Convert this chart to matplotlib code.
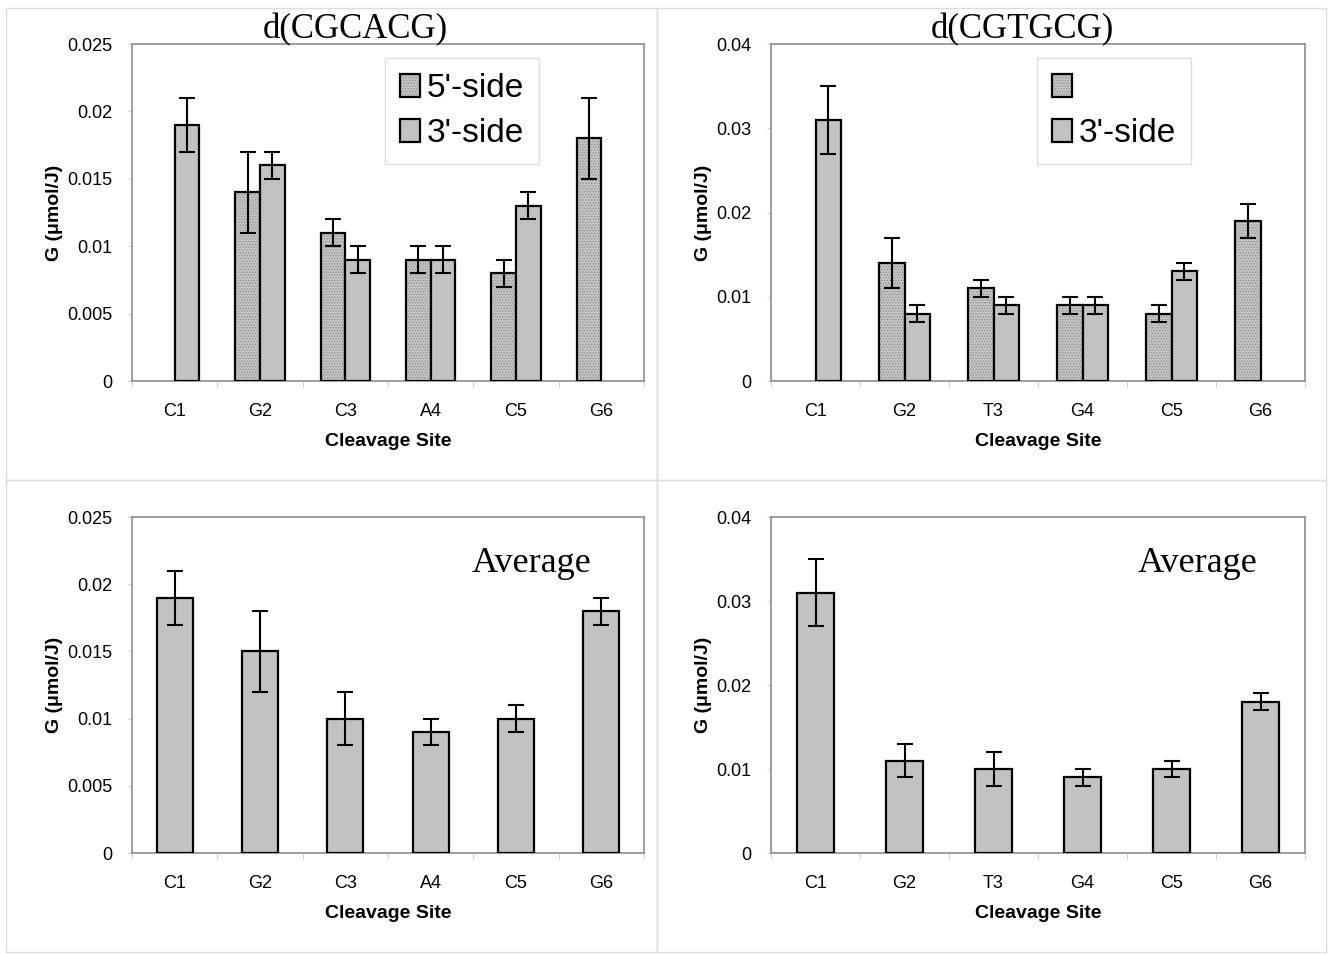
import numpy as np
import matplotlib
matplotlib.use("Agg")
import matplotlib.pyplot as plt
from matplotlib.patches import Patch, Rectangle
from matplotlib.ticker import FuncFormatter, FixedLocator

plt.rcParams['font.family'] = ['Liberation Sans', 'DejaVu Sans']
plt.rcParams['hatch.linewidth'] = 0.5

nan = np.nan

# sites for the two hexamers
sites_a = ['C1', 'G2', 'C3', 'A4', 'C5', 'G6']
sites_b = ['C1', 'G2', 'T3', 'G4', 'C5', 'G6']

# d(CGCACG), 5'-side and 3'-side cleavage
a_5side = [nan, 0.014, 0.011, 0.009, 0.008, 0.018]
a_5side_err = [nan, 0.003, 0.001, 0.001, 0.001, 0.003]
a_3side = [0.019, 0.016, 0.009, 0.009, 0.013, nan]
a_3side_err = [0.002, 0.001, 0.001, 0.001, 0.001, nan]

# d(CGTGCG), 5'-side and 3'-side cleavage
b_5side = [nan, 0.014, 0.011, 0.009, 0.008, 0.019]
b_5side_err = [nan, 0.003, 0.001, 0.001, 0.001, 0.002]
b_3side = [0.031, 0.008, 0.009, 0.009, 0.013, nan]
b_3side_err = [0.004, 0.001, 0.001, 0.001, 0.001, nan]

# averages
a_avg = [0.019, 0.015, 0.010, 0.009, 0.010, 0.018]
a_avg_err = [0.002, 0.003, 0.002, 0.001, 0.001, 0.001]
b_avg = [0.031, 0.011, 0.010, 0.009, 0.010, 0.018]
b_avg_err = [0.004, 0.002, 0.002, 0.001, 0.001, 0.001]

FILL = '#c2c2c2'
DOTS = '#8a8a8a'
SPINE = '#8c8c8c'

W, H = 1331, 955
fig = plt.figure(figsize=(W / 100, H / 100), dpi=100)

# light panel frames like the original figure
for (x0, y0, x1, y1) in [(6, 8, 657, 480), (657, 8, 1326, 480),
                         (6, 480, 657, 952), (657, 480, 1326, 952)]:
    fig.add_artist(Rectangle((x0 / W, 1 - y1 / H), (x1 - x0) / W, (y1 - y0) / H,
                             transform=fig.transFigure, fill=False,
                             edgecolor='#dcdcdc', linewidth=1.0))


def make_axes(px_left, px_right, px_top, px_bottom):
    return fig.add_axes([px_left / W, 1 - px_bottom / H,
                         (px_right - px_left) / W, (px_bottom - px_top) / H])


def style_axes(ax, sites, ymax, ystep):
    x = np.arange(len(sites))
    ax.set_xlim(-0.5, len(sites) - 0.5)
    ax.set_ylim(0, ymax)
    ax.set_xticks(x)
    ax.set_xticklabels(sites)
    ax.xaxis.set_minor_locator(FixedLocator(np.arange(-0.5, len(sites), 1.0)))
    ax.tick_params(axis='x', which='major', length=0, pad=16, labelsize=13)
    ax.tick_params(axis='x', which='minor', length=4, color='#c8c8c8', direction='out')
    ax.set_yticks(np.arange(0, ymax + ystep / 2, ystep))
    ax.yaxis.set_major_formatter(FuncFormatter(lambda v, p: '{:g}'.format(round(v, 4))))
    ax.tick_params(axis='y', length=3, color='#d0d0d0', pad=11, labelsize=13)
    for s in ax.spines.values():
        s.set_color(SPINE)
        s.set_linewidth(1.2)
    ax.set_xlabel('Cleavage Site', fontsize=14, fontweight='bold', labelpad=9)
    ax.set_ylabel('G (\u03bcmol/J)', fontsize=14, fontweight='bold', labelpad=3)


def draw_errs(ax, x, vals, errs):
    ax.errorbar(x, vals, yerr=errs, fmt='none', ecolor='black', elinewidth=1.5,
                capsize=6, capthick=1.5, zorder=4)


def grouped(ax, sites, v5, e5, v3, e3, ymax, ystep):
    x = np.arange(len(sites))
    w = 0.29
    # stippled 5'-side bars: dots first, then the black outline
    ax.bar(x - w / 2, v5, w, color=FILL, hatch='......', edgecolor=DOTS,
           linewidth=0, zorder=2)
    ax.bar(x - w / 2, v5, w, fill=False, edgecolor='black', linewidth=1.6, zorder=3)
    ax.bar(x + w / 2, v3, w, color=FILL, edgecolor='black', linewidth=1.6, zorder=3)
    draw_errs(ax, x - w / 2, v5, e5)
    draw_errs(ax, x + w / 2, v3, e3)
    style_axes(ax, sites, ymax, ystep)


def single(ax, sites, vals, errs, ymax, ystep):
    x = np.arange(len(sites))
    ax.bar(x, vals, 0.42, color=FILL, edgecolor='black', linewidth=1.6, zorder=3)
    draw_errs(ax, x, vals, errs)
    style_axes(ax, sites, ymax, ystep)


def legend_handles():
    dotted = (Patch(facecolor=FILL, hatch='......', edgecolor=DOTS, linewidth=0),
              Patch(fill=False, edgecolor='black', linewidth=1.6))
    plain = Patch(facecolor=FILL, edgecolor='black', linewidth=1.6)
    return dotted, plain


legend_kw = dict(loc='upper left', fontsize=24, fancybox=False, framealpha=1,
                 edgecolor='#dddddd', handlelength=0.6, handleheight=0.7,
                 handletextpad=0.2, labelspacing=0.42, borderpad=0.45,
                 borderaxespad=0)

ax1 = make_axes(132, 644, 44, 381)
grouped(ax1, sites_a, a_5side, a_5side_err, a_3side, a_3side_err, 0.025, 0.005)
h5, h3 = legend_handles()
ax1.legend([h5, h3], ["5'-side", "3'-side"], bbox_to_anchor=(0.494, 0.958),
           **legend_kw)

ax2 = make_axes(771, 1305, 44, 381)
grouped(ax2, sites_b, b_5side, b_5side_err, b_3side, b_3side_err, 0.04, 0.01)
h5, h3 = legend_handles()
ax2.legend([h5, h3], ["", "3'-side"], bbox_to_anchor=(0.498, 0.958),
           **legend_kw)

ax3 = make_axes(132, 644, 517, 853)
single(ax3, sites_a, a_avg, a_avg_err, 0.025, 0.005)

ax4 = make_axes(771, 1305, 517, 853)
single(ax4, sites_b, b_avg, b_avg_err, 0.04, 0.01)

serif = ['Liberation Serif', 'DejaVu Serif']
fig.text(355 / W, 1 - 30 / H, 'd(CGCACG)', family=serif, fontsize=25,
         ha='center', va='center')
fig.text(1022 / W, 1 - 30 / H, 'd(CGTGCG)', family=serif, fontsize=25,
         ha='center', va='center')
fig.text(532 / W, 1 - 563 / H, 'Average', family=serif, fontsize=26,
         ha='center', va='center')
fig.text(1197 / W, 1 - 563 / H, 'Average', family=serif, fontsize=26,
         ha='center', va='center')

fig.savefig('out.png', dpi=100)
